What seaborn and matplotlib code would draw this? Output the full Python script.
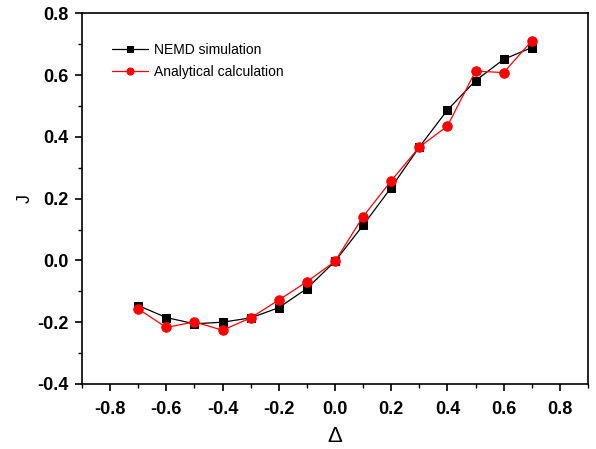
import matplotlib
matplotlib.use("Agg")
import matplotlib.pyplot as plt
import seaborn as sns
import pandas as pd
from matplotlib.ticker import MultipleLocator

delta = [-0.7, -0.6, -0.5, -0.4, -0.3, -0.2, -0.1, 0.0, 0.1, 0.2, 0.3, 0.4, 0.5, 0.6, 0.7]
nemd = [-0.146, -0.185, -0.205, -0.200, -0.186, -0.153, -0.091, -0.003, 0.114, 0.236, 0.367, 0.487, 0.582, 0.651, 0.689]
analytical = [-0.157, -0.217, -0.199, -0.226, -0.186, -0.128, -0.069, -0.003, 0.142, 0.258, 0.367, 0.435, 0.613, 0.608, 0.711]

sns.set_theme(style="ticks")
plt.rcParams['font.family'] = ['Liberation Sans', 'DejaVu Sans']
plt.rcParams['text.color'] = 'black'
plt.rcParams['axes.labelcolor'] = 'black'
plt.rcParams['xtick.color'] = 'black'
plt.rcParams['ytick.color'] = 'black'

fig = plt.figure(figsize=(5.96, 4.49), dpi=100)
ax = fig.add_axes([0.1376, 0.1448, 0.8490, 0.8256])

df1 = pd.DataFrame({"x": delta, "y": nemd})
df2 = pd.DataFrame({"x": delta, "y": analytical})
sns.lineplot(data=df1, x="x", y="y", ax=ax, color="black", marker="s", markersize=6,
             markeredgecolor="black", linewidth=0.9, label="NEMD simulation")
sns.lineplot(data=df2, x="x", y="y", ax=ax, color="red", marker="o", markersize=6.8,
             markeredgecolor="red", linewidth=0.9, label="Analytical calculation")

ax.set_xlim(-0.9, 0.9)
ax.set_ylim(-0.4, 0.8)
ax.xaxis.set_minor_locator(MultipleLocator(0.1))
ax.yaxis.set_minor_locator(MultipleLocator(0.1))
ax.set_xticks([-0.8, -0.6, -0.4, -0.2, 0.0, 0.2, 0.4, 0.6, 0.8])
ax.set_xticklabels(["-0.8", "-0.6", "-0.4", "-0.2", "0.0", "0.2", "0.4", "0.6", "0.8"])
ax.set_yticks([-0.4, -0.2, 0.0, 0.2, 0.4, 0.6, 0.8])
ax.set_yticklabels(["-0.4", "-0.2", "0.0", "0.2", "0.4", "0.6", "0.8"])
ax.tick_params(which="major", direction="out", length=5, width=1.2, labelsize=13,
               color="black", labelcolor="black")
ax.tick_params(axis="x", which="major", pad=7)
ax.tick_params(axis="y", which="major", pad=4.5)
ax.tick_params(which="minor", direction="out", length=3, width=1.0, color="black")
for lab in ax.get_xticklabels() + ax.get_yticklabels():
    lab.set_fontweight("bold")
for s in ax.spines.values():
    s.set_visible(True)
    s.set_linewidth(1.2)
    s.set_color("black")

ax.set_xlabel("Δ", fontsize=16, labelpad=6, color="black")
ax.set_ylabel("J", fontsize=13, labelpad=3, color="black")

leg = ax.legend(loc="upper left", frameon=False, fontsize=10, handlelength=2.6,
                handletextpad=0.4, labelspacing=0.6, markerscale=0.75,
                borderaxespad=0, bbox_to_anchor=(0.048, 0.935))
for t in leg.get_texts():
    t.set_color("black")

fig.savefig("out.png", dpi=100)
